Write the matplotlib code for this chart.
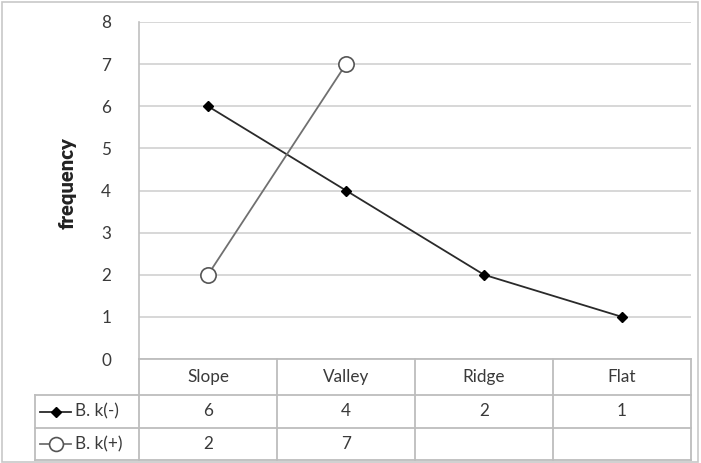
import matplotlib
matplotlib.use("Agg")
import matplotlib.pyplot as plt
from matplotlib.patches import Rectangle
import numpy as np

categories = ["Slope", "Valley", "Ridge", "Flat"]
series_names = ["B. k(-)", "B. k(+)"]
bk_minus = [6, 4, 2, 1]
bk_plus = [2, 7, None, None]
y_ticks = [0, 1, 2, 3, 4, 5, 6, 7, 8]
y_label = "frequency"

plt.rcParams['font.family'] = ['Lato', 'DejaVu Sans']

W, H = 701, 463
fig = plt.figure(figsize=(W / 100, H / 100), dpi=100)
FS = 12.3
TC = "#3a3a3a"

def px(x0, y0, x1, y1):
    return [x0 / W, 1 - y1 / H, (x1 - x0) / W, (y1 - y0) / H]

# outer border
fig.patches.append(Rectangle((1.5 / W, 1.5 / H), (W - 5) / W, (H - 3) / H,
                             transform=fig.transFigure, fill=False,
                             edgecolor="#c8c8c8", linewidth=1.2))

ax = fig.add_axes(px(139, 22, 691, 359))
x = np.arange(len(categories))
ax.set_xlim(-0.5, len(categories) - 0.5)
ax.set_ylim(0, 8)
ax.set_yticks(y_ticks)
ax.tick_params(axis="y", length=0, pad=20, labelsize=FS, colors=TC)
ax.tick_params(axis="x", length=0, labelbottom=False)
ax.grid(axis="y", color="#d4d4d4", linewidth=1.3)
ax.set_axisbelow(True)
for s in ["top", "right", "bottom"]:
    ax.spines[s].set_visible(False)
ax.spines["left"].set_color("#c0c0c0")
ax.spines["left"].set_linewidth(1.2)
ax.set_ylabel(y_label, fontsize=14.5, fontweight="heavy", color="#222222")
ax.yaxis.set_label_coords(-(139 - 77) / 552, (359 - 183) / 337)

bm = np.array(bk_minus, dtype=float)
bp = np.array([np.nan if v is None else v for v in bk_plus], dtype=float)
ax.plot(x, bm, color="#2a2a2a", linewidth=1.3, marker="D", markersize=5,
        markerfacecolor="black", markeredgecolor="black", clip_on=False, zorder=3)
ax.plot(x, bp, color="#707070", linewidth=1.3, marker="o", markersize=11,
        markerfacecolor="white", markeredgecolor="#555555", markeredgewidth=1.2,
        clip_on=False, zorder=3)

# data table
tab = fig.add_axes(px(139, 359, 691, 460))
tab.set_xlim(-0.5, len(categories) - 0.5)
tab.set_ylim(101, 0)
tab.axis("off")
lc = "#bdbdbd"
lw = 1.3
row_edges = [0, 36, 69, 101]
left_ext = -0.5 - 104 / 138.0
tab.plot([-0.5, 3.5], [row_edges[0]] * 2, color=lc, lw=lw, clip_on=False)
for r in row_edges[1:]:
    tab.plot([left_ext, 3.5], [r, r], color=lc, lw=lw, clip_on=False)
for i in range(len(categories) + 1):
    tab.plot([i - 0.5, i - 0.5], [0, 101], color=lc, lw=lw, clip_on=False)
tab.plot([left_ext, left_ext], [36, 101], color=lc, lw=lw, clip_on=False)

for i, c in enumerate(categories):
    tab.text(i, 18, c, ha="center", va="center", fontsize=FS, color=TC)
rows = [bk_minus, bk_plus]
for r, vals in enumerate(rows):
    yc = (row_edges[r + 1] + row_edges[r + 2]) / 2
    for i, v in enumerate(vals):
        if v is not None:
            tab.text(i, yc, str(v), ha="center", va="center", fontsize=FS, color=TC)

sx0 = left_ext + 5 / 138
sx1 = left_ext + 36 / 138
sxm = (sx0 + sx1) / 2
ymid1 = (row_edges[1] + row_edges[2]) / 2
ymid2 = (row_edges[2] + row_edges[3]) / 2
tab.plot([sx0, sx1], [ymid1, ymid1], color="#2a2a2a", lw=1.3, clip_on=False)
tab.plot([sxm], [ymid1], marker="D", markersize=5, color="black", clip_on=False)
tab.plot([sx0, sx1], [ymid2, ymid2], color="#707070", lw=1.3, clip_on=False)
tab.plot([sxm], [ymid2], marker="o", markersize=10, markerfacecolor="white",
         markeredgecolor="#555555", markeredgewidth=1.2, clip_on=False)
tab.text(left_ext + 40 / 138, ymid1, series_names[0], ha="left", va="center",
         fontsize=FS, color=TC)
tab.text(left_ext + 40 / 138, ymid2, series_names[1], ha="left", va="center",
         fontsize=FS, color=TC)

fig.savefig("out.png", dpi=100)
